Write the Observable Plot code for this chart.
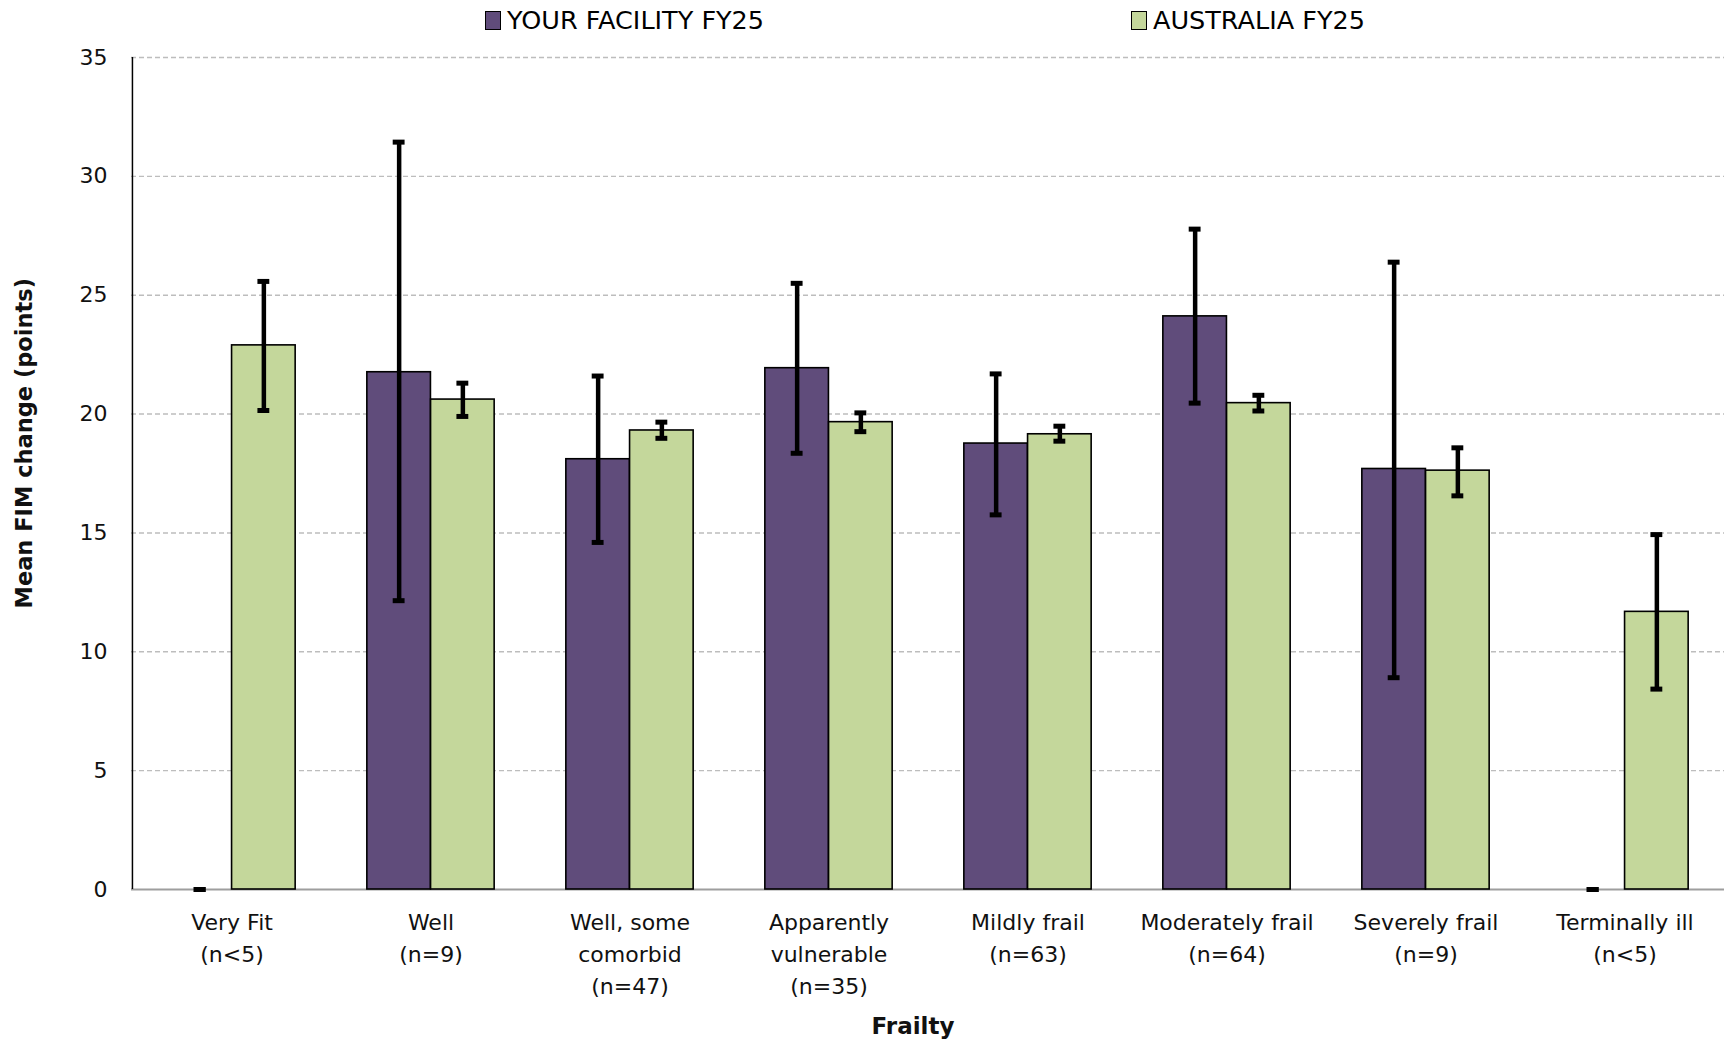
<!DOCTYPE html>
<html><head><meta charset="utf-8">
<script src="https://cdn.jsdelivr.net/npm/d3@7"></script>
<script src="https://cdn.jsdelivr.net/npm/@observablehq/plot@0.6"></script>
<style>
html,body{margin:0;padding:0;background:#fff;font-family:"DejaVu Sans",sans-serif;overflow:hidden;}
#legend{position:relative;height:40px;}
.item{position:absolute;top:5px;display:flex;align-items:center;font-size:25.5px;color:#000;white-space:nowrap;}
.sw{width:14px;height:17px;border:1.5px solid #000;margin-right:6px;}
#chart svg{display:block;}
</style></head><body>
<div id="legend"></div>
<div id="chart"></div>
<script>
const categories = ["Very Fit","Well","Well, some\ncomorbid","Apparently\nvulnerable","Mildly frail","Moderately frail","Severely frail","Terminally ill"];
const nLabels = ["(n<5)","(n=9)","(n=47)","(n=35)","(n=63)","(n=64)","(n=9)","(n<5)"];
const seriesNames = ["YOUR FACILITY FY25","AUSTRALIA FY25"];
const seriesColors = ["#604c7b","#c4d79b"];
const facility   = [null, 21.76, 18.10, 21.93, 18.76, 24.11, 17.69, null];
const facilityLo = [0,    12.15, 14.60, 18.35, 15.76, 20.46,  8.91, 0];
const facilityHi = [0,    31.44, 21.60, 25.50, 21.69, 27.78, 26.39, 0];
const australia   = [22.89, 20.61, 19.31, 19.66, 19.15, 20.46, 17.62, 11.68];
const australiaLo = [20.15, 19.90, 18.98, 19.26, 18.86, 20.13, 16.56,  8.43];
const australiaHi = [25.58, 21.30, 19.66, 20.05, 19.49, 20.79, 18.58, 14.93];
const yTicks = [0,5,10,15,20,25,30,35];
const yTitle = "Mean FIM change (points)";
const xTitle = "Frailty";

// layout
const W = 1728, H = 1001, mL = 131, mR = 4, mT = 17, mB = 152;
const B = (W - mL - mR) / categories.length;
const off = 0.16 * B;
const capW = 12;

const fRows = categories.map((c,i)=>({c, v: facility[i], lo: facilityLo[i], hi: facilityHi[i]}));
const aRows = categories.map((c,i)=>({c, v: australia[i], lo: australiaLo[i], hi: australiaHi[i]}));
const fBars = fRows.filter(d => d.v != null);

// legend
const leg = document.getElementById("legend");
[[485, 0],[1131, 1]].forEach(([left,i])=>{
  const it = document.createElement("div");
  it.className = "item"; it.style.left = left + "px";
  it.innerHTML = `<span class="sw" style="background:${seriesColors[i]}"></span>${seriesNames[i]}`;
  leg.appendChild(it);
});

function errMarks(rows, dx){
  return [
    Plot.ruleX(rows, {x:"c", y1:"lo", y2:"hi", dx, stroke:"#000", strokeWidth:4.5}),
    Plot.tickY(rows, {x:"c", y:"hi", dx, insetLeft:(B-capW)/2, insetRight:(B-capW)/2, stroke:"#000", strokeWidth:5}),
    Plot.tickY(rows, {x:"c", y:"lo", dx, insetLeft:(B-capW)/2, insetRight:(B-capW)/2, stroke:"#000", strokeWidth:5})
  ];
}

const chart = Plot.plot({
  width: W, height: H,
  marginLeft: mL, marginRight: mR, marginTop: mT, marginBottom: mB,
  style: {fontFamily: "'DejaVu Sans', sans-serif", fontSize: "22px", color: "#111", background: "#fff"},
  x: {domain: categories, padding: 0, axis: null},
  y: {domain: [0, 35], axis: null},
  marks: [
    Plot.ruleY(yTicks.filter(d=>d>0), {stroke:"#bdbdbd", strokeWidth:1.4, strokeDasharray:"5,3"}),
    Plot.ruleY([0], {stroke:"#9e9e9e", strokeWidth:2}),
    Plot.barY(fBars, {x:"c", y:"v", fill: seriesColors[0], stroke:"#000", strokeWidth:1.6, insetLeft:0.18*B, insetRight:0.5*B}),
    Plot.barY(aRows, {x:"c", y:"v", fill: seriesColors[1], stroke:"#000", strokeWidth:1.6, insetLeft:0.5*B, insetRight:0.18*B}),
    ...errMarks(fRows, -off),
    ...errMarks(aRows, off),
    Plot.ruleX([categories[0]], {x: d=>d, dx: -B/2, y1: 0, y2: 35, stroke:"#000", strokeWidth:1.5}),
    Plot.axisY({ticks: yTicks, tickSize: 0, tickPadding: 24, label: null, fontSize: 22}),
    Plot.axisX({domain: categories, tickSize: 0, tickPadding: 18, label: null, fontSize: 22, lineHeight: 1.45,
      tickFormat: (d) => d + "\n" + nLabels[categories.indexOf(d)]}),
    Plot.text([yTitle], {text: d=>d, frameAnchor: "left", rotate: -90, dx: -107, dy: 135, fontWeight: "bold", fontSize: 22.5, fill: "#111"}),
    Plot.text([xTitle], {text: d=>d, frameAnchor: "bottom", dx: -15, dy: 144, fontWeight: "bold", fontSize: 23, fill: "#111"})
  ]
});
document.getElementById("chart").appendChild(chart);
</script>
</body></html>
